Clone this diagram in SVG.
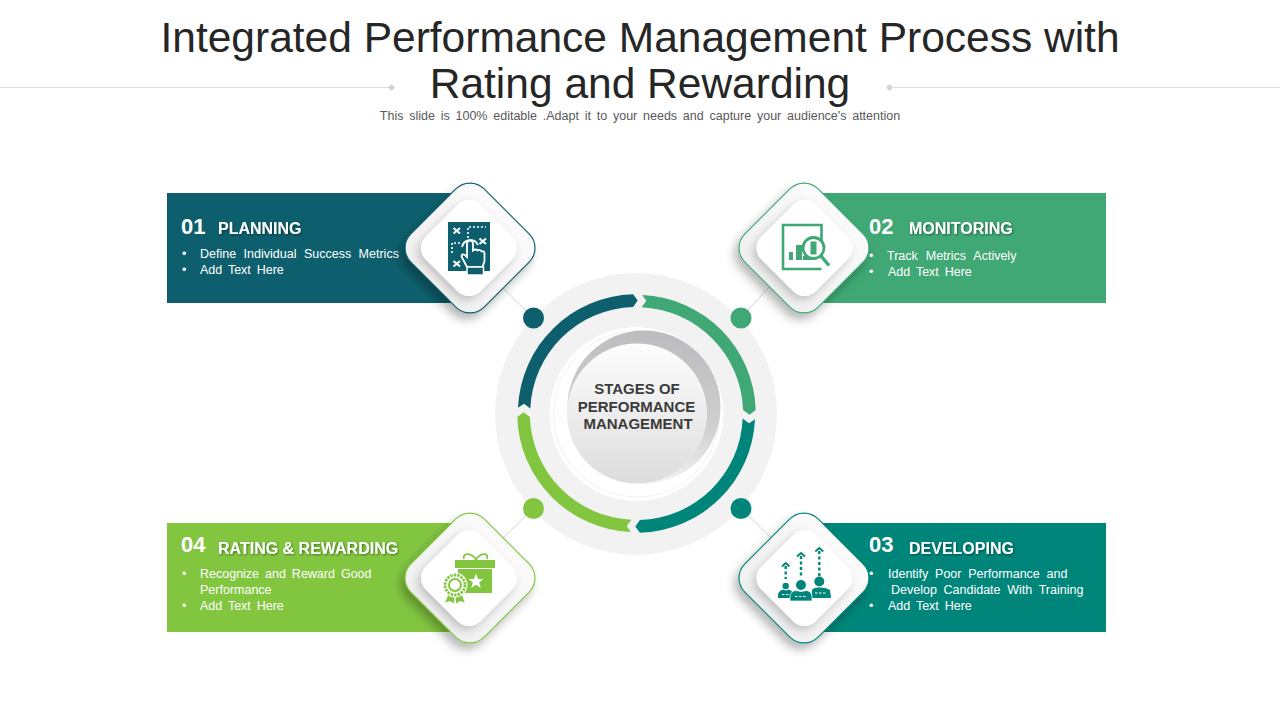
<svg xmlns="http://www.w3.org/2000/svg" width="1280" height="720" viewBox="0 0 1280 720">
<style>
text{font-family:"Liberation Sans",Arial,sans-serif}
.title{font-size:42.5px;fill:#262626;text-anchor:middle}
.sub{font-size:12.5px;fill:#595959;text-anchor:middle}
.num{font-size:22px;font-weight:bold;fill:#fff}
.head{font-size:16px;font-weight:bold;fill:#fff}
.body{font-size:12.5px;fill:#fff}
.center{font-size:15px;font-weight:bold;fill:#3b3b3b;text-anchor:middle}
.link{stroke:#d4d4d4;stroke-width:1;fill:none}
.rule{stroke:#dedede;stroke-width:1}
.outer{fill:url(#outerFill);stroke-width:1.2}
.inner{fill:#fff}
.c1{fill:#0e5f6d}.c2{fill:#3fa874}.c3{fill:#00857a}.c4{fill:#82c640}
.s1{stroke:#0e5f6d}.s2{stroke:#3fa874}.s3{stroke:#00857a}.s4{stroke:#82c640}
</style>
<defs>
<linearGradient id="outerFill" x1="0" y1="0" x2="0" y2="1"><stop offset="0" stop-color="#fbfbfb"/><stop offset="1" stop-color="#f0f0f0"/></linearGradient>
<linearGradient id="crescent" x1="0.55" y1="0" x2="0.4" y2="1"><stop offset="0" stop-color="#bcbcbe"/><stop offset=".55" stop-color="#cfcfd0"/><stop offset="1" stop-color="#f6f6f6"/></linearGradient>
<linearGradient id="disc" x1="0" y1="0" x2="0" y2="1"><stop offset="0" stop-color="#fdfdfd"/><stop offset="1" stop-color="#dddddd"/></linearGradient>
<filter id="sh" x="-40%" y="-40%" width="180%" height="180%"><feDropShadow dx="-4" dy="6" stdDeviation="5" flood-color="#000" flood-opacity=".28"/></filter>
<filter id="shIn" x="-40%" y="-40%" width="180%" height="180%"><feDropShadow dx="-3" dy="4" stdDeviation="4" flood-color="#000" flood-opacity=".2"/></filter>
<filter id="ts" x="-10%" y="-30%" width="120%" height="160%"><feDropShadow dx="1" dy="1" stdDeviation=".8" flood-color="#000" flood-opacity=".45"/></filter>
<rect id="dOuter" x="-51.800" y="-51.800" width="103.600" height="103.600" rx="20" transform="rotate(45)"/>
<rect id="dInner" x="-38.600" y="-38.600" width="77.200" height="77.200" rx="16" transform="rotate(45)"/>
<path id="arc" d="M-118.500 -5.800A118.700 118.700 0 0 1 -3.400 -119.200L1.200 -113L-3.400 -106.600A106.300 106.300 0 0 0 -106.200 -5L-112.500 -9.800Z"/>
</defs>
<rect width="1280" height="720" fill="#fff"/>

<g id="header">
<line class="rule" x1="0" y1="87.500" x2="390" y2="87.500"/>
<line class="rule" x1="890" y1="87.500" x2="1280" y2="87.500"/>
<path d="M391.500 84L395 87.500L391.500 91L388 87.500Z" fill="#d4d4d4"/>
<path d="M889.500 84L893 87.500L889.500 91L886 87.500Z" fill="#d4d4d4"/>
<text class="title" x="640" y="52">Integrated Performance Management Process with</text>
<text class="title" x="640" y="98">Rating and Rewarding</text>
<text class="sub" x="640" y="120" word-spacing="2.300">This slide is 100% editable  .Adapt it to your needs and capture your audience's attention</text>
</g>

<g id="connectors">
<line class="link" x1="533.500" y1="318" x2="503" y2="288"/>
<line class="link" x1="741" y1="318" x2="771" y2="285"/>
<line class="link" x1="741" y1="508.500" x2="771" y2="538"/>
<line class="link" x1="533.500" y1="508.500" x2="503" y2="538"/>
</g>

<g id="hub">
<circle cx="636" cy="414" r="141" fill="#f2f2f2"/>
<circle cx="636.500" cy="414" r="87" fill="#fff"/>
<circle cx="636.500" cy="414" r="83" fill="none" stroke="#f1f1f1" stroke-width="1"/>
<circle cx="644" cy="407" r="76.500" fill="url(#crescent)"/>
<circle cx="637" cy="413.500" r="70" fill="url(#disc)"/>
<g transform="translate(636.500 413.500)">
<use href="#arc" class="c1"/>
<use href="#arc" class="c2" transform="rotate(90)"/>
<use href="#arc" class="c3" transform="rotate(180)"/>
<use href="#arc" class="c4" transform="rotate(270)"/>
</g>
<text class="center" x="637" y="394">STAGES OF</text>
<text class="center" x="636.500" y="411.500">PERFORMANCE</text>
<text class="center" x="638" y="429">MANAGEMENT</text>
<circle class="c1" cx="533.500" cy="318" r="10.500"/>
<circle class="c2" cx="741" cy="318" r="10.500"/>
<circle class="c3" cx="741" cy="508.500" r="10.500"/>
<circle class="c4" cx="533.500" cy="508.500" r="10.500"/>
</g>

<g id="node1">
<rect class="c1" x="167" y="193" width="303" height="110"/>
<text class="num" x="181" y="234">01</text>
<text class="head" x="218" y="234" filter="url(#ts)">PLANNING</text>
<text class="body" x="182" y="258">•</text><text class="body" x="200" y="258" word-spacing="4">Define Individual Success Metrics</text>
<text class="body" x="182" y="274">•</text><text class="body" x="200" y="274" word-spacing="2.400">Add Text Here</text>
<g transform="translate(470 248)">
<g filter="url(#sh)"><use href="#dOuter" class="outer s1"/></g>
<g filter="url(#shIn)"><use href="#dInner" class="inner" transform="translate(-1 0)"/></g>
</g>
<g id="icon1">
<rect class="c1" x="448" y="222" width="42" height="49"/>
<path d="M453.500 228L460 233.500M460 228L453.500 233.500M479.500 238.500L486 244M486 238.500L479.500 244M453.500 261L460 266.500M460 261L453.500 266.500" stroke="#fff" stroke-width="2" fill="none"/>
<path d="M468 238V227H486M460 243H452V253" stroke="#fff" stroke-width="1.600" stroke-dasharray="2 2" fill="none"/>
<path d="M462 247A8.500 8.500 0 0 1 478 245" stroke="#fff" stroke-width="1.800" fill="none"/>
<path d="M467 267L461.500 256.500Q461.500 253 465 255L467 257V243.500Q467 240.500 470 240.500Q473 240.500 473 243.500V250.500Q476 248.500 477.500 250.500Q480.500 249 481.500 251.500Q484.500 250.500 484.500 253.500V261L482.500 267Z" class="c1" stroke="#fff" stroke-width="1.800"/>
<rect class="c1" x="467" y="267" width="16.500" height="8" stroke="#fff" stroke-width="1.500"/>
</g>
</g>

<g id="node2">
<rect class="c2" x="804" y="193" width="302" height="110"/>
<text class="num" x="869" y="234">02</text>
<text class="head" x="909" y="234" filter="url(#ts)">MONITORING</text>
<text class="body" x="869" y="260">•</text><text class="body" x="887" y="260" word-spacing="4.500">Track Metrics Actively</text>
<text class="body" x="869" y="276">•</text><text class="body" x="888" y="276" word-spacing="2.400">Add Text Here</text>
<g transform="translate(804 248)">
<g filter="url(#sh)"><use href="#dOuter" class="outer s2"/></g>
<g filter="url(#shIn)"><use href="#dInner" class="inner" transform="translate(.5 0)"/></g>
</g>
<g id="icon2">
<path d="M821.500 258V225H783V269H821.500" fill="none" stroke="#3fa874" stroke-width="2.600"/>
<path class="c2" d="M789 252H793V260H789ZM796 245H802V260H796ZM803 256H812V260H803Z"/>
<circle cx="813.500" cy="248" r="10.500" fill="#fff" stroke="#3fa874" stroke-width="2.800"/>
<path class="c2" d="M810.500 241.500H816.500V254.500H810.500Z"/>
<path d="M821 256L829 265.500" stroke="#3fa874" stroke-width="3.400"/>
</g>
</g>

<g id="node3">
<rect class="c3" x="804" y="523" width="302" height="109"/>
<text class="num" x="869" y="552">03</text>
<text class="head" x="909" y="554" filter="url(#ts)">DEVELOPING</text>
<text class="body" x="869" y="578">•</text><text class="body" x="888" y="578" word-spacing="3.300">Identify Poor Performance and</text>
<text class="body" x="891" y="594" word-spacing="3.200">Develop Candidate With Training</text>
<text class="body" x="869" y="610">•</text><text class="body" x="888" y="610" word-spacing="2.400">Add Text Here</text>
<g transform="translate(804 578)">
<g filter="url(#sh)"><use href="#dOuter" class="outer s3"/></g>
<g filter="url(#shIn)"><use href="#dInner" class="inner" transform="translate(.5 0)"/></g>
</g>
<g id="icon3">
<path d="M785.700 566V579M801 556V578M819.300 551V577" stroke="#00857a" stroke-width="2.400" stroke-dasharray="3 2.500" fill="none"/>
<path d="M782 566.500L785.700 563L789.400 566.500M797 556.500L801 553L805 556.500M815.300 551.500L819.300 548L823.300 551.500" stroke="#00857a" stroke-width="1.800" fill="none"/>
<circle class="c3" cx="785.700" cy="586" r="3.200"/><circle class="c3" cx="801" cy="585" r="5"/><circle class="c3" cx="819.300" cy="581.500" r="5"/>
<path class="c3" d="M778 598V595Q778 591 783 589.500L786 590.500L789 589.500Q793 591 793 595V598ZM812 598V590Q814 587 819.500 587.500Q826 587 830 590L831 598Z"/>
<path class="c3" d="M790 601V597Q790 592 795 590.500L801 591.500L807 590.500Q812 592 812 597V601Z" stroke="#fff" stroke-width=".7"/>
<path d="M782 594.500H789M795 596.500H807M815 593H827" stroke="#fff" stroke-width="1.200" stroke-dasharray="2.500 1.500"/>
</g>
</g>

<g id="node4">
<rect class="c4" x="167" y="523" width="303" height="109"/>
<text class="num" x="181" y="552">04</text>
<text class="head" x="218" y="554" filter="url(#ts)">RATING &amp; REWARDING</text>
<text class="body" x="182" y="578">•</text><text class="body" x="200" y="578" word-spacing="2.500">Recognize and Reward Good</text>
<text class="body" x="200" y="594">Performance</text>
<text class="body" x="182" y="610">•</text><text class="body" x="200" y="610" word-spacing="2.400">Add Text Here</text>
<g transform="translate(470 578)">
<g filter="url(#sh)"><use href="#dOuter" class="outer s4"/></g>
<g filter="url(#shIn)"><use href="#dInner" class="inner" transform="translate(-1 0)"/></g>
</g>
<g id="icon4">
<path class="c4" d="M455 560H495V568H455ZM458 569H492V593H458Z"/>
<path d="M476 559C470 552 462 553 464 559M476 559C482 552 489 553 487 559M471 566L476 559L481 566" fill="none" stroke="#82c640" stroke-width="1.800"/>
<path d="M476 573.500L478 579H483.500L479.200 582.500L480.800 588L476 584.800L471.200 588L472.800 582.500L468.500 579H474Z" fill="#fff"/>
<path class="c4" d="M449 592L444.500 603L450 601.500L454 604L456 595ZM461 592L465.500 603L460 601.500L456 604L454 595Z" stroke="#fff" stroke-width=".8"/>
<circle cx="455" cy="585" r="12.500" fill="#fff"/>
<circle cx="455" cy="585" r="10" fill="none" stroke="#82c640" stroke-width="2.800" stroke-dasharray="2.500 1"/>
<circle cx="455" cy="585" r="6" fill="none" stroke="#82c640" stroke-width="2"/>
</g>
</g>
</svg>
